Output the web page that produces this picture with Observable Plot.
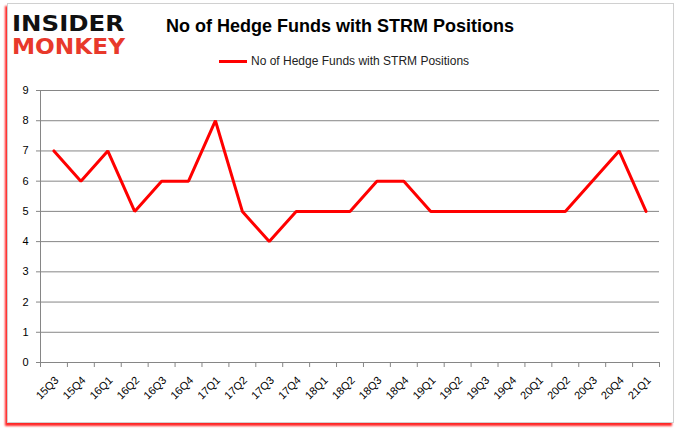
<!DOCTYPE html>
<html><head><meta charset="utf-8">
<script src="https://cdn.jsdelivr.net/npm/d3@7"></script>
<script src="https://cdn.jsdelivr.net/npm/@observablehq/plot@0.6"></script>
<style>
body{margin:0;background:#fff;}
#wrap{position:relative;width:680px;height:433px;overflow:hidden;font-family:"Liberation Sans",Arial,sans-serif;}
#frame{position:absolute;left:7px;top:3px;width:665px;height:418px;border:1px solid #d0d0d0;box-shadow:-2px 3px 2px rgba(255,0,0,0.85);background:#fff;}
#chart{position:absolute;left:0;top:0;}
#title{position:absolute;left:0;width:680px;top:16px;text-align:center;font-weight:bold;font-size:18px;color:#000;}
#legend{position:absolute;left:219px;top:54px;font-size:12px;color:#222;display:flex;align-items:center;}
#legend span.sw{display:inline-block;width:28px;height:3px;background:#ff0000;margin-right:4px;}
</style></head>
<body>
<div id="wrap">
<div id="frame"></div>
<div id="chart"></div>
<div id="title">No of Hedge Funds with STRM Positions</div>
<div id="legend"><span class="sw"></span>No of Hedge Funds with STRM Positions</div>
<svg id="logo" style="position:absolute;left:0;top:0" width="140" height="60">
<text x="12" y="31" font-family="DejaVu Sans" font-weight="bold" font-size="22" textLength="112" lengthAdjust="spacingAndGlyphs" fill="#111">INSIDER</text>
<text x="12" y="54" font-family="DejaVu Sans" font-weight="bold" font-size="22" textLength="113" lengthAdjust="spacingAndGlyphs" fill="#e8392b">MONKEY</text>
</svg>
</div>
<script>
const quarters = ["15Q3","15Q4","16Q1","16Q2","16Q3","16Q4","17Q1","17Q2","17Q3","17Q4","18Q1","18Q2","18Q3","18Q4","19Q1","19Q2","19Q3","19Q4","20Q1","20Q2","20Q3","20Q4","21Q1"];
const funds = [7,6,7,5,6,6,8,5,4,5,5,5,6,6,5,5,5,5,5,5,6,7,5];
const yTicks = [0,1,2,3,4,5,6,7,8,9];

const data = quarters.map((q,i)=>({q, i: i+0.5, v: funds[i]}));
const n = quarters.length;

const chart = Plot.plot({
  width: 680, height: 433,
  marginLeft: 40, marginRight: 21, marginTop: 90, marginBottom: 71,
  style: {background: "transparent", fontFamily: "Liberation Sans, Arial, sans-serif", fontSize: "11px", color: "#000"},
  x: {domain: [0, n], axis: null},
  y: {domain: [0, 9], axis: null},
  marks: [
    Plot.gridY(yTicks, {stroke: "#868686", strokeOpacity: 1}),
    Plot.axisY(yTicks, {tickSize: 4, tickPadding: 8, stroke: "#868686", fill: "#000", fontSize: 11, label: null}),
    Plot.ruleX([0], {stroke: "#868686"}),
    Plot.ruleY([0], {stroke: "#868686"}),
    Plot.axisX(d3.range(0, n+1), {tickSize: 5, tickFormat: () => "", stroke: "#868686", label: null}),
    Plot.text(data, {x: "i", y: () => 0, text: "q", rotate: -45, textAnchor: "end", dx: 3, dy: 16, fontSize: 11, fill: "#000"}),
    Plot.line(data, {x: "i", y: "v", stroke: "#ff0000", strokeWidth: 3, strokeLinejoin: "miter"})
  ]
});
document.getElementById("chart").appendChild(chart);
</script>
</body></html>
